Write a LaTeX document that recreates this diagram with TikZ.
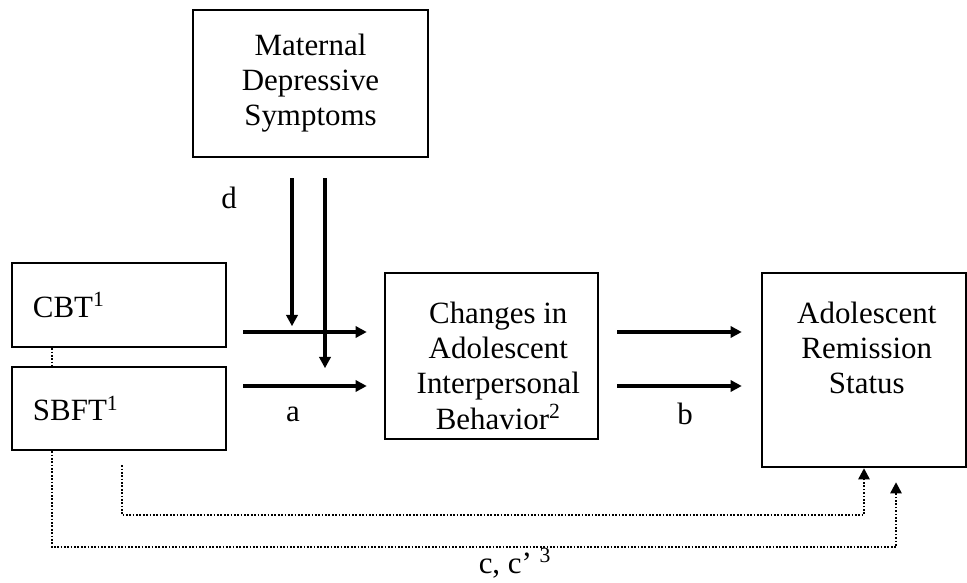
\documentclass[tikz,border=0pt]{standalone}
\usepackage{fontspec}
\setmainfont{Liberation Serif}
\usepackage{tikz}
\usetikzlibrary{arrows.meta, positioning, calc}
\tikzset{
    box/.style={rectangle, draw=black, line width=1.7pt, inner sep=0pt},
    txt/.style={align=center, inner sep=0pt, font=\fontsize{22}{25}\selectfont},
    arr/.style={line width=2.8pt, -{Triangle[length=8pt, width=8pt]}},
    dots/.style={line width=1.7pt, dash pattern=on 1.2pt off 1.2pt},
    dotarr/.style={dots, -{Triangle[length=8pt, width=8pt]}}
}

\begin{document}
\begin{tikzpicture}[x=0.025cm, y=-0.025cm]
    \useasboundingbox (0,0) rectangle (967,583);

    % Boxes
    \node (mat) [box, minimum width=5.875cm, minimum height=3.675cm] at (310.5,83.5) {};
    \node (cbt) [box, txt, minimum width=5.35cm, minimum height=2.1cm, text width=4.3cm, align=left, inner xsep=0.525cm] at (119,305) {CBT\textsuperscript{1}};
    \node (sbft) [box, txt, minimum width=5.35cm, minimum height=2.075cm, text width=4.3cm, align=left, inner xsep=0.525cm] at (119,408.5) {SBFT\textsuperscript{1}};
    \node (chg) [box, minimum width=5.325cm, minimum height=4.15cm] at (491.5,356) {};
    \node (rem) [box, minimum width=5.1cm, minimum height=4.85cm] at (864,370) {};

    % Box texts
    \node (mattxt) [txt, below=0.625cm of mat.north] {Maternal\\Depressive\\Symptoms};
    \node (chgtxt) [txt, below=0.75cm of chg.north, xshift=0.17cm] {Changes in\\Adolescent\\Interpersonal\\Behavior\textsuperscript{2}};
    \node (remtxt) [txt, below=0.75cm of rem.north, xshift=0.07cm] {Adolescent\\Remission\\Status};

    % Path labels
    \node (d) [txt] at (229,198) {d};
    \node (a) [txt] at (293,414) {a};
    \node (b) [txt] at (685,414) {b};
    \node (c) [txt] at (515,563) {c, c’ \textsuperscript{3}};

    % Arrows
    \draw [arr] ($(cbt.east)+(16,27)$) -- ($(chg.west |- cbt.east)+(-17,27)$);
    \draw [arr] ($(sbft.east)+(16,-22.5)$) -- ($(chg.west |- sbft.east)+(-17,-22.5)$);
    \draw [arr] ($(mat.south)+(-18.5,20)$) -- ++(0,148);
    \draw [arr] ($(mat.south)+(14.5,20)$) -- ++(0,190);
    \draw [arr] ($(chg.east)+(18,-24)$) -- ($(rem.west |- chg.east)+(-19,-24)$);
    \draw [arr] ($(chg.east)+(18,30)$) -- ($(rem.west |- chg.east)+(-19,30)$);

    % Dotted links
    \draw [dots] ($(cbt.south)+(-67,0)$) -- ($(sbft.north)+(-67,0)$);
    \draw [dotarr] ($(sbft.south)+(3,14)$) -- ++(0,50) -| (rem.south);
    \draw [dotarr] ($(sbft.south)+(-67,0)$) -- ++(0,96) -| ($(rem.south)+(32,14)$);
\end{tikzpicture}
\end{document}
